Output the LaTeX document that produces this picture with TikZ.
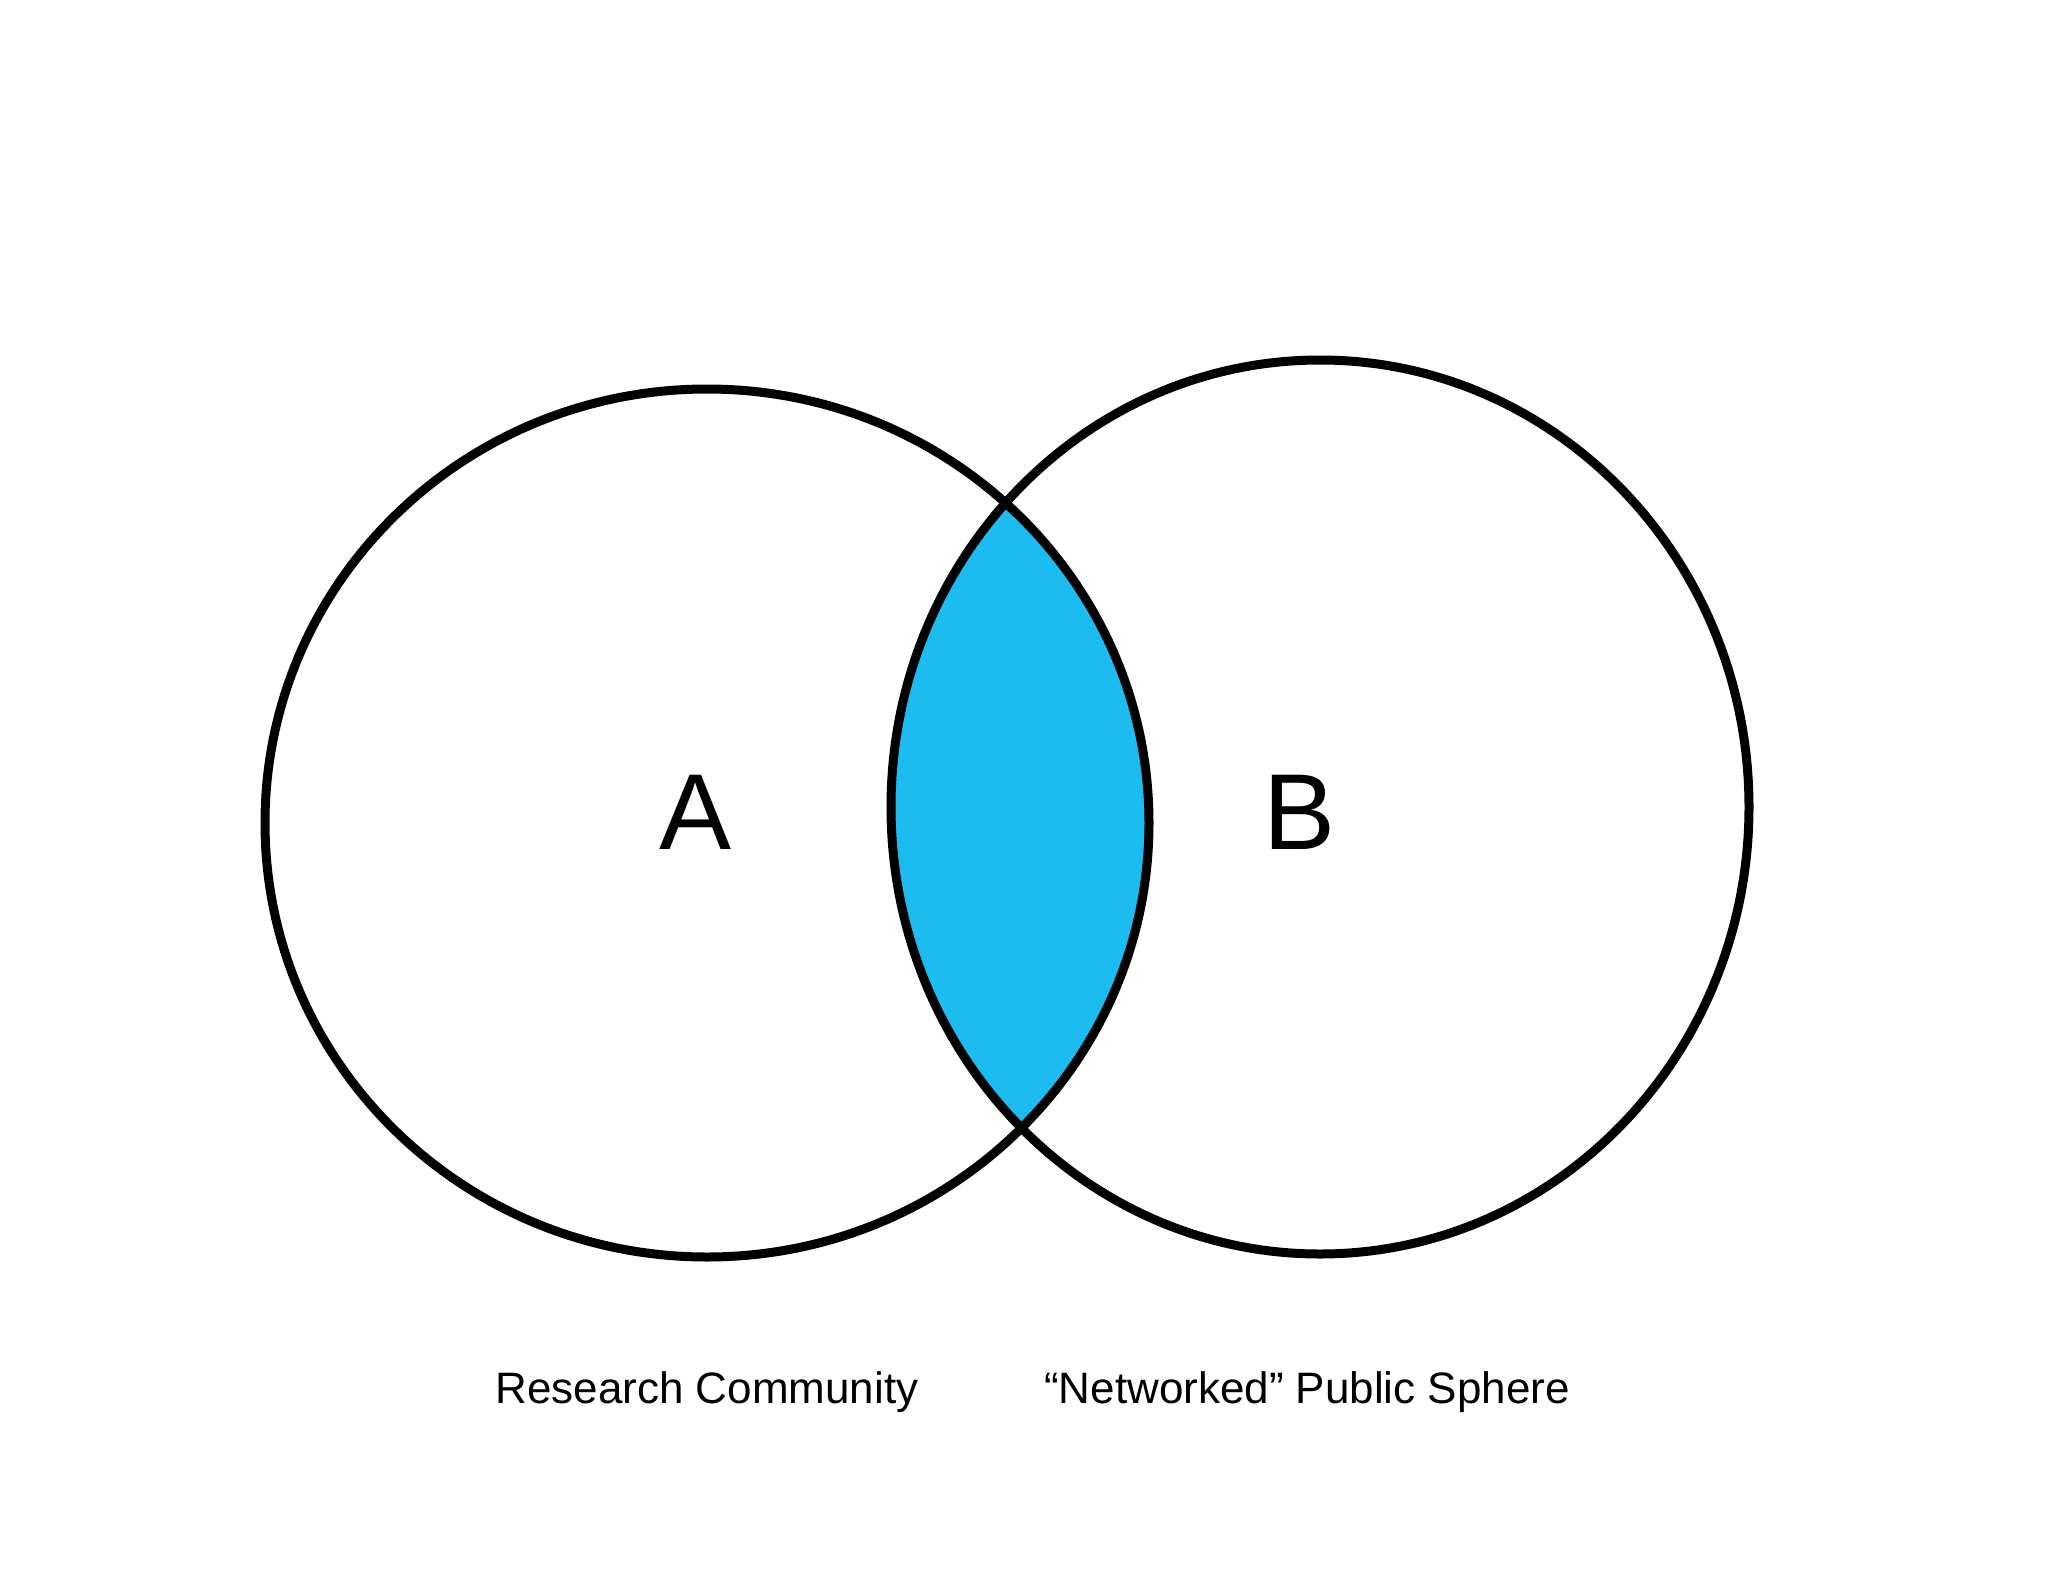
\documentclass[tikz,border=0pt]{standalone}
\usepackage{fontspec}
\setmainfont{Liberation Sans}
\definecolor{lens}{HTML}{1CBBF0}
\begin{document}
\begin{tikzpicture}[x=1pt,y=1pt,
  ring/.style={draw=black,line width=9pt},
  lbl/.style={font=\fontsize{44}{50}\selectfont,anchor=center}]
\useasboundingbox (0,0) rectangle (2048,-1582);
\fill[white] (0,0) rectangle (2048,-1582);
\begin{scope}
  \clip (707,-823) ellipse [x radius=442, y radius=434];
  \fill[lens] (1320,-807) ellipse [x radius=429, y radius=447];
\end{scope}
\draw[ring] (707,-823) ellipse [x radius=442, y radius=434];
\draw[ring] (1320,-807) ellipse [x radius=429, y radius=447];
\node[font=\fontsize{108}{120}\selectfont] (a) at (696,-812) {A};
\node[font=\fontsize{108}{120}\selectfont] (b) at (1300,-812) {B};
\node[lbl] (ra) at (707,-1392) {Research Community};
\node[lbl] (rb) at (1307,-1392) {“Networked” Public Sphere};
\end{tikzpicture}
\end{document}
